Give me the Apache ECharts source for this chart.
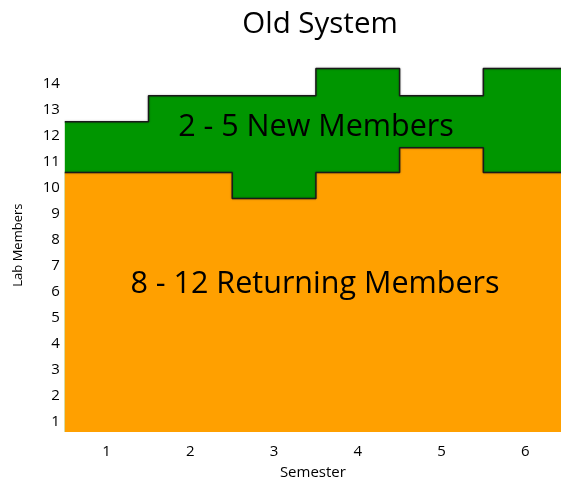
<!DOCTYPE html>
<html><head><meta charset="utf-8">
<script src="https://cdn.jsdelivr.net/npm/echarts@6/dist/echarts.min.js"></script>
<style>html,body{margin:0;padding:0;background:#fff}#c{width:561px;height:485px}</style>
</head><body><div id="c"></div>
<script>
const semesters = [1, 2, 3, 4, 5, 6];
const returningMembers = [10.6, 10.6, 9.6, 10.6, 11.55, 10.6];
const totalMembers = [12.55, 13.55, 13.55, 14.6, 13.55, 14.6];
const yTickLabels = [1, 2, 3, 4, 5, 6, 7, 8, 9, 10, 11, 12, 13, 14];

function stepData(vals) {
  const d = semesters.map((s, i) => [s - 0.5, vals[i]]);
  d.push([semesters[semesters.length - 1] + 0.5, vals[vals.length - 1]]);
  return d;
}
const FONT = 'Open Sans';
const chart = echarts.init(document.getElementById('c'), null, {renderer: 'canvas'});
const lineStyle = {color: '#1a1a1a', width: 1.5, shadowColor: 'rgba(0,0,0,0.35)', shadowBlur: 2};
chart.setOption({
  animation: false,
  title: {text: 'Old System', left: 315, top: 5, textAlign: 'center',
    textStyle: {fontFamily: FONT, fontSize: 29.5, fontWeight: 'normal', color: '#000'}},
  grid: {left: 64.8, right: 0, top: 58.2, bottom: 49.5},
  xAxis: {type: 'value', min: 0.5, max: 6.428,
    name: 'Semester', nameLocation: 'middle', nameGap: 33,
    nameTextStyle: {fontFamily: FONT, fontSize: 15, color: '#000'},
    axisLine: {show: false}, axisTick: {show: false}, splitLine: {show: false},
    axisLabel: {customValues: semesters, fontFamily: FONT, fontSize: 15, color: '#000', margin: 12}},
  yAxis: {type: 'value', min: 0.6, max: 15,
    name: 'Lab Members', nameLocation: 'middle', nameGap: 40,
    nameTextStyle: {fontFamily: FONT, fontSize: 13, color: '#000'},
    axisLine: {show: false}, axisTick: {show: false}, splitLine: {show: false},
    axisLabel: {customValues: yTickLabels, fontFamily: FONT, fontSize: 15, color: '#000', margin: 5}},
  series: [
    {type: 'line', step: 'end', data: stepData(totalMembers), symbol: 'none',
      lineStyle: lineStyle, areaStyle: {color: '#009600', opacity: 1}, z: 2},
    {type: 'line', step: 'end', data: stepData(returningMembers), symbol: 'none',
      lineStyle: lineStyle, areaStyle: {color: '#FFA000', opacity: 1}, z: 3}
  ],
  graphic: [
    {type: 'text', x: 316, y: 127, z: 10, style: {text: '2 - 5 New Members', fontFamily: FONT, fontSize: 30.5,
      fill: '#000', align: 'center', verticalAlign: 'middle'}},
    {type: 'text', x: 315, y: 284, z: 10, style: {text: '8 - 12 Returning Members', fontFamily: FONT, fontSize: 30.5,
      fill: '#000', align: 'center', verticalAlign: 'middle'}}
  ]
});
</script></body></html>
